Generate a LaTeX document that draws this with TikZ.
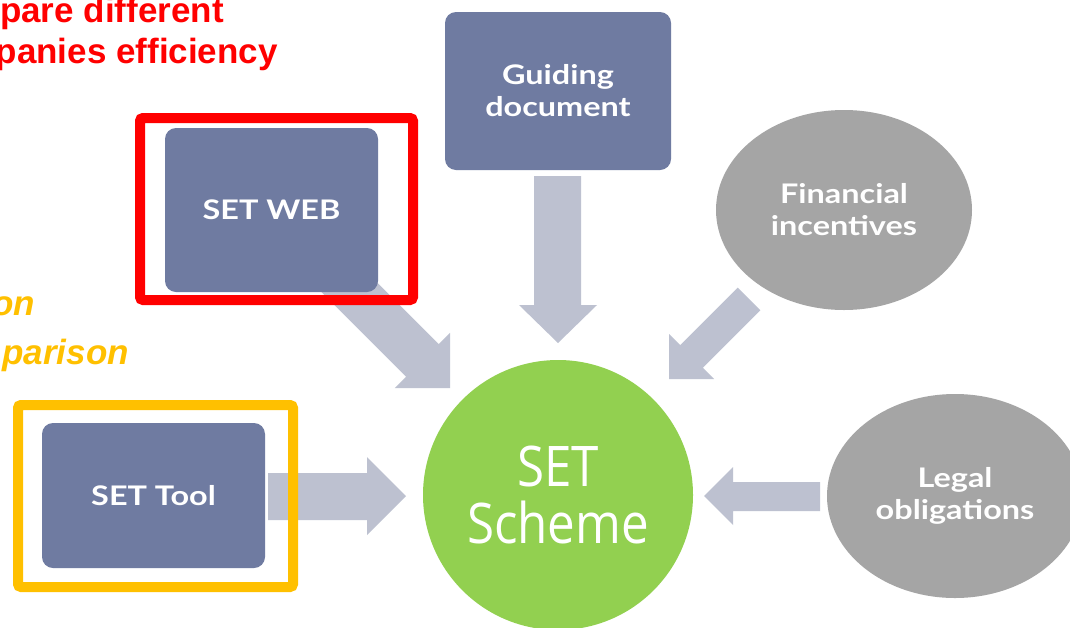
\documentclass[tikz,border=0pt]{standalone}
\usepackage{fontspec}
\setmainfont{Liberation Sans}
\newfontfamily\boxfont{Lato}[FakeStretch=1.2]
\newfontfamily\schemefont{Open Sans}[FakeStretch=0.88]
\usetikzlibrary{shapes.geometric}
\definecolor{boxblue}{HTML}{6F7BA1}
\definecolor{arrowgray}{HTML}{BDC1D0}
\definecolor{ellgray}{HTML}{A5A5A5}
\definecolor{schemegreen}{HTML}{92D050}
\definecolor{titlered}{HTML}{FF0000}
\definecolor{frameorange}{HTML}{FFC000}
\tikzset{
  blockarrow/.style={fill=arrowgray, draw=none},
  bluebox/.style={rectangle, rounded corners=11pt, fill=boxblue, draw=none, text=white,
    font=\boxfont\bfseries\fontsize{27}{32}\selectfont, align=center, inner sep=0pt},
  grayell/.style={ellipse, fill=ellgray, draw=none, text=white,
    font=\boxfont\bfseries\fontsize{27}{32}\selectfont, align=center, inner sep=0pt},
  frame/.style={line width=10pt, rounded corners=3pt},
  titletext/.style={font=\bfseries\fontsize{35}{35}\selectfont, text=titlered, inner sep=0pt, anchor=base east},
  subtext/.style={font=\bfseries\itshape\fontsize{35}{35}\selectfont, text=frameorange, inner sep=0pt, anchor=base east},
}
\begin{document}
\begin{tikzpicture}[x=1pt,y=-1pt]
\useasboundingbox (0,0) rectangle (1070,627);
\clip (0,0) rectangle (1070,627);
\fill[white] (0,0) rectangle (1070,627);
% block arrows (behind)
\fill[blockarrow] (534,176) -- (581,176) -- (581,305) -- (597,305) -- (558,343) -- (519,305) -- (534,305) -- cycle;
\fill[blockarrow] (268,473) -- (367,473) -- (367,457) -- (406,496) -- (367,535) -- (367,520) -- (268,520) -- cycle;
\fill[blockarrow] (820,482) -- (733,482) -- (733,467) -- (704,496) -- (733,525) -- (733,511) -- (820,511) -- cycle;
\fill[blockarrow] (313.7,284.3) -- (406.1,376.7) -- (394.8,388) -- (450,388) -- (450,332.8) -- (438.7,344.1) -- (346.3,251.7) -- cycle;
\fill[blockarrow] (669,379) -- (669,334) -- (680.2,345.2) -- (737.7,287.7) -- (760.3,310.3) -- (702.8,367.8) -- (714,379) -- cycle;
% nodes
\node[bluebox, minimum width=213pt, minimum height=164pt] (web) at (271.5,210) {SET WEB};
\node[bluebox, minimum width=226pt, minimum height=158pt] (guide) at (558,91) {Guiding\\document};
\node[bluebox, minimum width=223pt, minimum height=145pt] (tool) at (153.5,495.5) {SET Tool};
\node[grayell, minimum width=256pt, minimum height=200pt] (fin) at (844,210) {Financial\\incentives};
\node[grayell, minimum width=256pt, minimum height=204pt] (legal) at (955,496) {Legal\\obligations};
\node[circle, fill=schemegreen, draw=none, minimum size=270pt, inner sep=0pt, text=white,
  font=\schemefont\fontsize{56}{57}\selectfont, align=center] (scheme) at (558,495) {SET\\Scheme};
% highlight frames
\draw[frame, titlered] (140,118) rectangle (413,300);
\draw[frame, frameorange] (18,405) rectangle (293,587);
% partial texts
\node[titletext] (t1) at (224,22) {pare different};
\node[titletext] (t2) at (278,63) {panies efficiency};
\node[subtext] (s1) at (35,315) {on};
\node[subtext] (s2) at (129,364) {parison};
\end{tikzpicture}
\end{document}
